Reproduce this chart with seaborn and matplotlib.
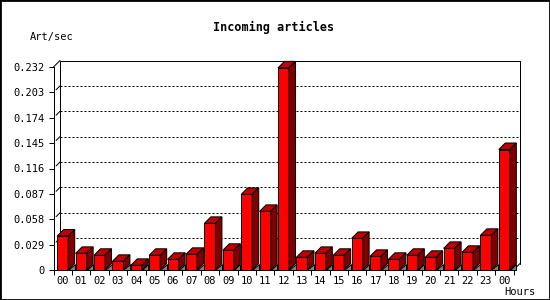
import matplotlib
matplotlib.use("Agg")
import matplotlib.pyplot as plt
import seaborn as sns
import pandas as pd
import numpy as np
from matplotlib.patches import Polygon, Rectangle

# ---- data ----
hours = ["00", "01", "02", "03", "04", "05", "06", "07", "08", "09", "10", "11",
         "12", "13", "14", "15", "16", "17", "18", "19", "20", "21", "22", "23", "00"]
rates = [0.0388, 0.0190, 0.0168, 0.0099, 0.0053, 0.0168, 0.0122, 0.0179, 0.0533,
         0.0225, 0.0864, 0.0670, 0.2310, 0.0145, 0.0190, 0.0168, 0.0361, 0.0156,
         0.0122, 0.0168, 0.0145, 0.0247, 0.0202, 0.0396, 0.1377]
yticks = [0, 0.029, 0.058, 0.087, 0.116, 0.145, 0.174, 0.203, 0.232]
ytick_labels = ["0", "0.029", "0.058", "0.087", "0.116", "0.145", "0.174", "0.203", "0.232"]
title = "Incoming articles"
ylabel = "Art/sec"
xlabel = "Hours"

sns.set_style("white")
plt.rcParams['font.family'] = ['DejaVu Sans Mono', 'DejaVu Sans']
plt.rcParams['text.color'] = 'black'
plt.rcParams['axes.labelcolor'] = 'black'
plt.rcParams['xtick.color'] = 'black'
plt.rcParams['ytick.color'] = 'black'

W, H = 550, 300
fig = plt.figure(figsize=(W / 100, H / 100), dpi=100)
fig.patch.set_facecolor("white")
ax_left, ax_bottom, ax_w, ax_h = 53.5, 30, 460, 203
ax = fig.add_axes([ax_left / W, ax_bottom / H, ax_w / W, ax_h / H])
ax.set_facecolor("none")

df = pd.DataFrame({"slot": list(range(len(rates))), "rate": rates})
sns.barplot(data=df, x="slot", y="rate", color="#ff0000", saturation=1,
            width=0.6, edgecolor="black", linewidth=0.72, errorbar=None,
            ax=ax, zorder=3)

n = len(rates)
ax.set_xlim(-0.5, n - 0.5)
ax.set_ylim(yticks[0], yticks[-1])

# depth offset for pseudo-3D (in pixels, converted to data units)
D = 6.5
ddx = D * n / ax_w
ddy = D * (yticks[-1] - yticks[0]) / ax_h
lw = 0.72

for p in list(ax.patches):
    x0, w, h = p.get_x(), p.get_width(), p.get_height()
    ax.add_patch(Polygon([(x0 + w, 0), (x0 + w + ddx, 0), (x0 + w + ddx, ddy)],
                         closed=True, fc="#808080", ec="black", lw=lw,
                         zorder=2, clip_on=False))
    ax.add_patch(Polygon([(x0, h), (x0 + w, h), (x0 + w + ddx, h + ddy), (x0 + ddx, h + ddy)],
                         closed=True, fc="#c00000", ec="black", lw=lw,
                         zorder=4, clip_on=False))
    ax.add_patch(Polygon([(x0 + w, 0), (x0 + w + ddx, ddy), (x0 + w + ddx, h + ddy), (x0 + w, h)],
                         closed=True, fc="#800000", ec="black", lw=lw,
                         zorder=4, clip_on=False))

xl, xr = -0.5, n - 0.5
ytop = yticks[-1]
# back wall frame
ax.plot([xl + ddx, xl + ddx, xr + ddx, xr + ddx], [ddy, ytop + ddy, ytop + ddy, ddy],
        color="black", lw=lw, zorder=1, clip_on=False)
ax.plot([xl, xl + ddx], [ytop, ytop + ddy], color="black", lw=lw, zorder=1, clip_on=False)
ax.plot([xr, xr + ddx], [0, ddy], color="black", lw=lw, zorder=1, clip_on=False)
# dotted grid on back wall
for yv in yticks[1:-1]:
    ax.plot([xl + ddx, xr + ddx], [yv + ddy, yv + ddy], color="black", lw=lw,
            ls=(0, (2, 2)), zorder=1, clip_on=False)
    ax.plot([xl + ddx * 0.4, xl + ddx], [yv + ddy * 0.4, yv + ddy], color="black", lw=lw,
            zorder=1, clip_on=False)

for s in ["top", "right"]:
    ax.spines[s].set_visible(False)
for s in ["left", "bottom"]:
    ax.spines[s].set_color("black")
    ax.spines[s].set_linewidth(lw)
    ax.spines[s].set_zorder(5)

ax.set_yticks(yticks, ytick_labels)
ax.set_xticks(list(range(n)), hours)
ax.set_xticks(np.arange(-0.5, n), minor=True)
ax.tick_params(axis="y", which="major", direction="out", length=3.6, width=lw,
               color="black", labelcolor="black", labelsize=7.5, pad=2.8, left=True)
ax.tick_params(axis="x", which="major", length=0, labelsize=7.5, pad=4,
               labelcolor="black")
ax.tick_params(axis="x", which="minor", direction="out", length=3.6, width=lw,
               color="black", bottom=True)
ax.set_xlabel("")
ax.set_ylabel("")
ax.grid(False)

fig.text(274 / W, 1 - 27 / H, title, ha="center", va="center",
         fontsize=8.5, fontweight="bold", color="black")
fig.text(30 / W, 1 - 37 / H, ylabel, ha="left", va="center", fontsize=7.5, color="black")
fig.text(504 / W, 1 - 292 / H, xlabel, ha="left", va="center", fontsize=7.5, color="black")
fig.add_artist(Rectangle((0, 0), 1, 1, transform=fig.transFigure, fill=False,
                         ec="black", lw=2))

fig.savefig("out.png", dpi=100)
